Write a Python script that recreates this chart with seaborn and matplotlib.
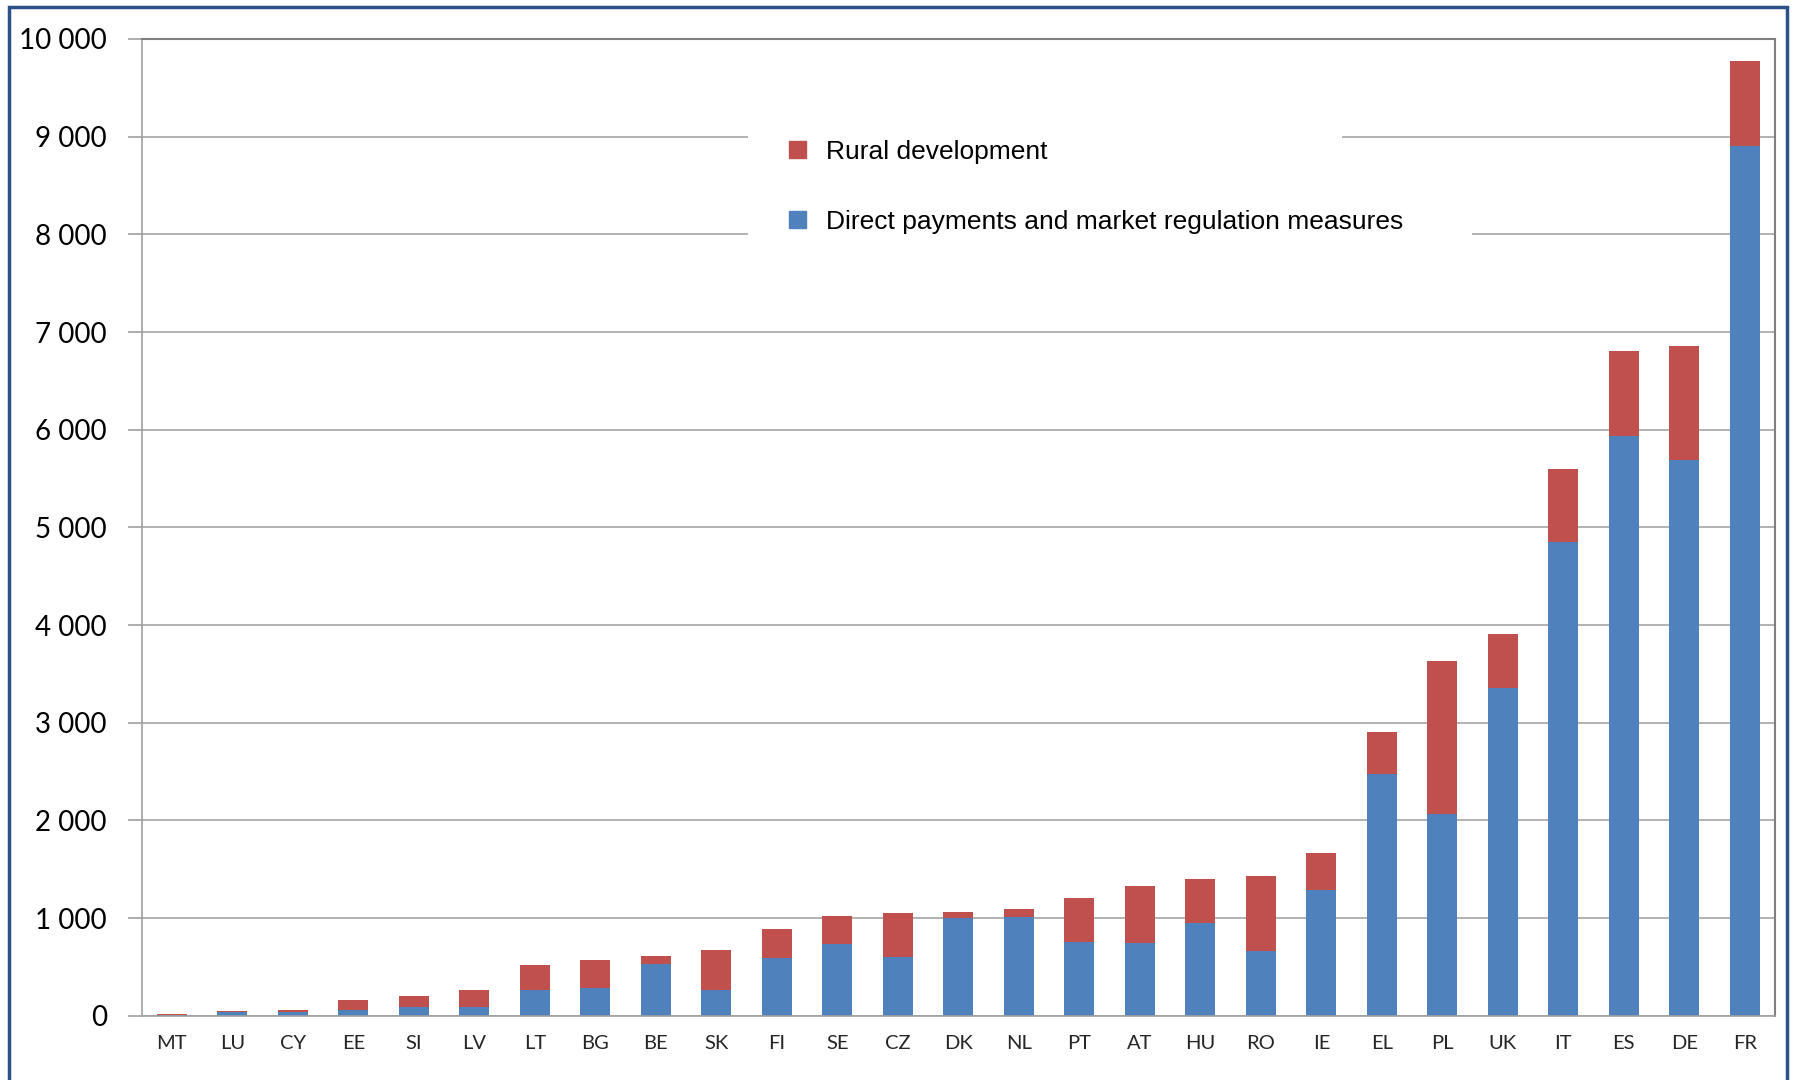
import numpy as np
import pandas as pd
import matplotlib.pyplot as plt
import seaborn as sns
from matplotlib.patches import Patch, Rectangle
from matplotlib.ticker import FuncFormatter, FixedLocator

# Data (EUR million)
countries = ["MT", "LU", "CY", "EE", "SI", "LV", "LT", "BG", "BE", "SK", "FI", "SE", "CZ", "DK",
             "NL", "PT", "AT", "HU", "RO", "IE", "EL", "PL", "UK", "IT", "ES", "DE", "FR"]
direct = [3, 37, 40, 58, 88, 88, 265, 286, 534, 265, 592, 731, 599, 1003,
          1014, 755, 741, 949, 665, 1290, 2478, 2065, 3358, 4850, 5940, 5690, 8905]
rural = [15, 11, 18, 105, 113, 174, 259, 282, 75, 405, 299, 293, 449, 55,
         74, 452, 589, 452, 762, 379, 423, 1566, 550, 750, 865, 1170, 870]
yticks = list(range(0, 10001, 1000))

BLUE = "#4F81BD"
RED = "#C0504D"

df = pd.DataFrame({"country": countries, "direct": direct, "rural": rural})
df["total"] = df["direct"] + df["rural"]

sns.set_style("white")
plt.rcParams["font.family"] = ["Lato", "DejaVu Sans"]

fig = plt.figure(figsize=(17.95, 10.8), dpi=100)
ax = fig.add_axes([0.0789, 0.0595, 0.91, 0.9044])

# stacked bars: total in red, direct payments in blue on top of it
sns.barplot(data=df, x="country", y="total", color=RED, width=0.5, saturation=1,
            errorbar=None, linewidth=0, ax=ax)
sns.barplot(data=df, x="country", y="direct", color=BLUE, width=0.5, saturation=1,
            errorbar=None, linewidth=0, ax=ax)

ax.set_xlim(-0.5, len(countries) - 0.5)
ax.set_ylim(0, 10000)
ax.set_yticks(yticks)
ax.yaxis.set_major_formatter(FuncFormatter(lambda v, p: f"{int(v):,}".replace(",", " ")))
ax.set_xlabel("")
ax.set_ylabel("")

ax.yaxis.grid(True, color="#a6a6a6", lw=1.2)
ax.set_axisbelow(True)

ax.xaxis.set_minor_locator(FixedLocator(np.arange(-0.5, len(countries), 1)))
ax.tick_params(axis="x", which="major", length=0, pad=14, labelsize=14.5, labelcolor="#262626")
ax.tick_params(axis="x", which="minor", length=7, width=1.2, color="#a0a0a0")
ax.tick_params(axis="y", length=10, width=1.2, color="#a0a0a0", pad=15, labelsize=20,
               labelcolor="black", left=True)

for s in ["left", "bottom"]:
    ax.spines[s].set_color("#a0a0a0")
    ax.spines[s].set_linewidth(1.2)
for s in ["top", "right"]:
    ax.spines[s].set_color("#7f7f7f")
    ax.spines[s].set_linewidth(1.5)

# legend: two separate white boxes, as in the original
leg_font = {"family": ["Liberation Sans", "DejaVu Sans"], "size": 19}
W, H = 1795, 1080
leg_kw = dict(loc="center", mode="expand", prop=leg_font, frameon=True, fancybox=False,
              framealpha=1, labelcolor="black",
              borderpad=1.55, borderaxespad=0, handlelength=0.64, handleheight=0.64,
              handletextpad=0.75)
leg1 = fig.legend(handles=[Patch(color=RED, label="Rural development")],
                  bbox_to_anchor=(748 / W, 1 - 152 / H, (1342 - 748) / W, 0), **leg_kw)
leg2 = fig.legend(handles=[Patch(color=BLUE, label="Direct payments and market regulation measures")],
                  bbox_to_anchor=(748 / W, 1 - 222 / H, (1472 - 748) / W, 0), **leg_kw)
for leg in (leg1, leg2):
    leg.get_frame().set_facecolor("white")
    leg.get_frame().set_edgecolor("none")

# outer chart border
fig.add_artist(Rectangle((9 / W, -0.05), (1787 - 9) / W, 1 - 7 / H + 0.05,
                         transform=fig.transFigure, fill=False, edgecolor="#2b5186", lw=2.5))

fig.savefig("out.png", dpi=100)
